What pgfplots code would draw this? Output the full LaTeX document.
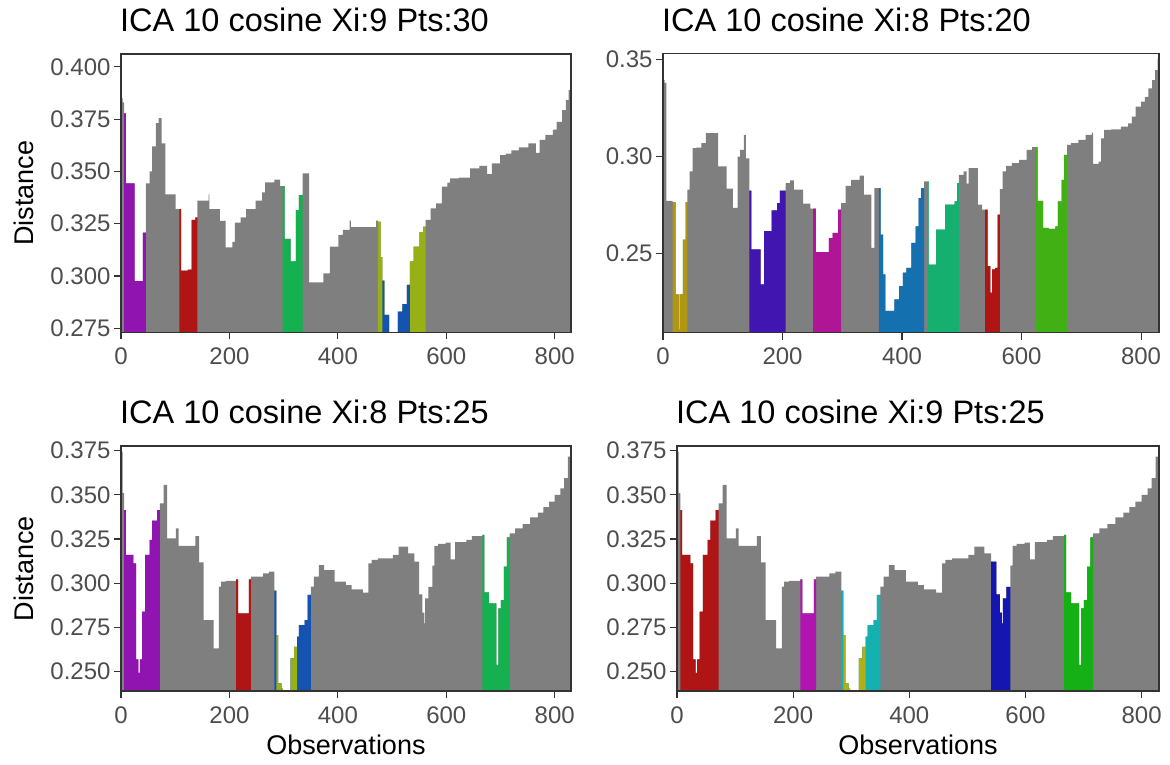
\documentclass[border=0pt]{standalone}
\usepackage{fontspec}
\setmainfont{Liberation Sans}
\usepackage{pgfplots}
\usepackage{pgfplotstable}
\pgfplotsset{compat=1.18}
\definecolor{gfill}{HTML}{7F7F7F}
\definecolor{axisc}{HTML}{333333}
\definecolor{tickc}{HTML}{4D4D4D}
\definecolor{cpurple}{HTML}{9015B0}
\definecolor{cred}{HTML}{B01515}
\definecolor{cgreen}{HTML}{15B050}
\definecolor{colive}{HTML}{96B015}
\definecolor{cblue}{HTML}{1553B0}
\definecolor{cgold}{HTML}{B09615}
\definecolor{cindigo}{HTML}{4015B0}
\definecolor{cmagenta}{HTML}{B01596}
\definecolor{cblueb}{HTML}{1570B0}
\definecolor{cteal}{HTML}{15B070}
\definecolor{cgreenb}{HTML}{40B015}
\definecolor{cmag}{HTML}{B015B0}
\definecolor{ccyan}{HTML}{15B0B0}
\definecolor{cyellow}{HTML}{B0B015}
\definecolor{cnavy}{HTML}{1515B0}
\definecolor{cgreenc}{HTML}{15B015}

\pgfplotstableread{
x y
0 0.3744
2.8 0.3509
5.6 0.3414
9.0 0.3160
22.9 0.3113
27.8 0.2570
31.9 0.2494
34.7 0.2570
38.9 0.2839
44.4 0.3160
52.7 0.3245
57.6 0.3354
66.6 0.3414
71.5 0.3452
78.4 0.3556
85.3 0.3254
101.3 0.3311
106.2 0.3211
137.4 0.3267
144.3 0.3118
152.6 0.2792
170.7 0.2632
180.4 0.2981
184.6 0.3009
192.9 0.3013
212.3 0.3022
215.8 0.2830
235.9 0.3022
239.4 0.3037
262.3 0.3056
272.7 0.3066
283.1 0.2958
286.5 0.2707
290.0 0.2434
295.6 0.2405
298.0 0.2300
313.0 0.2575
319.1 0.2641
324.7 0.2698
328.2 0.2764
338.6 0.2792
344.1 0.2934
350.4 0.2981
355.9 0.3037
364.9 0.3103
374.7 0.3075
394.1 0.3009
414.9 0.2990
425.3 0.2966
446.1 0.2947
456.5 0.3113
462.1 0.3132
473.9 0.3141
501.6 0.3160
512.0 0.3207
529.4 0.3169
540.9 0.3122
550.0 0.2937
556.0 0.2834
559.5 0.2773
561.0 0.2915
567.0 0.2980
574.2 0.3100
578.0 0.3211
584.9 0.3222
598.8 0.3230
607.8 0.3135
616.1 0.3232
637.0 0.3245
647.3 0.3267
666.7 0.3273
670.2 0.2949
678.5 0.2886
692.4 0.2538
695.9 0.2858
700.7 0.2905
706.3 0.3094
711.8 0.3260
716.7 0.3282
727.1 0.3311
740.9 0.3335
754.8 0.3373
768.7 0.3399
779.1 0.3430
789.5 0.3462
799.9 0.3499
810.3 0.3537
817.3 0.3594
824.2 0.3716
830 0.3716
}\profC

\pgfplotsset{
  reach/.style={
    scale only axis, xmin=0, xmax=830,
    axis on top,
    axis line style={draw=axisc, line width=1.1pt},
    every tick/.style={draw=axisc, line width=1.1pt},
    tick align=outside, major tick length=7pt,
    xtick pos=bottom, ytick pos=left,
    xtick={0,200,400,600,800},
    ticklabel style={font=\fontsize{24}{24}\selectfont, text=tickc},
    xticklabel style={yshift=-5pt},
    /pgf/number format/assume math mode=true,
    scaled y ticks=false,
    yticklabel style={/pgf/number format/.cd, fixed, fixed zerofill, precision=3},
  },
  gbar/.style={const plot, fill=gfill, draw=none},
  cbar/.style={const plot, fill=#1, draw=none},
}

\begin{document}
\begin{tikzpicture}
\path[use as bounding box] (0pt,0pt) rectangle (1170pt,765pt);

% ---------------- Panel 1 ----------------
\begin{axis}[reach, at={(121pt,432.5pt)}, anchor=south west, width=450pt, height=278.5pt,
  ymin=0.2730, ymax=0.4061, ytick={0.275,0.3,0.325,0.35,0.375,0.4}]
\addplot[gbar] coordinates {(0,0.385) (3,0.383) (5.6,0.3777) (9,0.3443) (25,0.2975) (40.2,0.3207) (45.8,0.3443) (52.7,0.350) (57.6,0.362) (64.5,0.373) (69.4,0.3755) (74.9,0.3634) (81.9,0.339) (100.6,0.332) (111,0.3026) (123.5,0.3031) (130.4,0.3268) (137.4,0.328) (140.8,0.336) (161.7,0.339) (163,0.332) (182.5,0.3263) (192.9,0.3137) (205.4,0.3163) (210.2,0.3255) (220.6,0.328) (231,0.332) (248.4,0.336) (260.2,0.340) (265.7,0.3448) (283.1,0.346) (293.5,0.343) (301.8,0.3177) (312.9,0.307) (322.6,0.3315) (328.2,0.3387) (335.1,0.349) (346.9,0.297) (373.3,0.3013) (385.1,0.314) (401,0.3196) (409.3,0.322) (421.8,0.3265) (423.9,0.3233) (470.4,0.3265) (473.9,0.326) (478.7,0.309) (482.2,0.2978) (485.7,0.2814) (494.7,0.26) (510.6,0.283) (519,0.2865) (527.3,0.2957) (532.8,0.307) (539.8,0.314) (550.2,0.321) (557.1,0.3236) (562,0.3268) (571,0.3323) (581.4,0.3347) (591.8,0.3427) (602.2,0.3446) (607.1,0.3467) (623,0.347) (643.8,0.3514) (661.2,0.3526) (675.1,0.3487) (684.1,0.3538) (699.3,0.3578) (709.8,0.3585) (720.2,0.360) (734,0.3615) (751.4,0.3634) (765.3,0.3589) (772.2,0.365) (782.6,0.3674) (796.5,0.370) (803.4,0.3737) (813.8,0.3793) (820.7,0.3841) (825.6,0.389) (830,0.389)} \closedcycle;
\addplot[cbar=cpurple] coordinates {(5.6,0.3777) (9,0.3443) (25,0.2975) (40.2,0.3207) (45.8,0.3207)} \closedcycle;
\addplot[cbar=cred] coordinates {(107.5,0.332) (111,0.3026) (123.5,0.3031) (130.4,0.3268) (137.4,0.328) (140.8,0.328)} \closedcycle;
\addplot[cbar=cgreen] coordinates {(298.3,0.343) (301.8,0.3177) (312.9,0.307) (322.6,0.3315) (328.2,0.3387) (335.1,0.3387)} \closedcycle;
\addplot[cbar=colive] coordinates {(473.9,0.326) (478.7,0.309) (482.2,0.2978) (485.7,0.2814) (494.7,0.26) (510.6,0.283) (519,0.2865) (527.3,0.2957) (532.8,0.307) (539.8,0.314) (550.2,0.321) (557.1,0.3236) (562,0.3236)} \closedcycle;
\addplot[cbar=cblue] coordinates {(482.2,0.2978) (485.7,0.2814) (494.7,0.26) (510.6,0.283) (519,0.2865) (527.3,0.2957) (532.8,0.2957)} \closedcycle;
\end{axis}

% ---------------- Panel 2 ----------------
\begin{axis}[reach, at={(663pt,432.3pt)}, anchor=south west, width=496pt, height=279.2pt,
  ymin=0.2092, ymax=0.3531, ytick={0.25,0.3,0.35},
  yticklabel style={/pgf/number format/.cd, fixed, fixed zerofill, precision=2}]
\addplot[gbar] coordinates {(0,0.3394) (2.5,0.338) (5.6,0.2772) (16.1,0.2765) (21.0,0.2289) (26.6,0.2110) (27.8,0.2289) (33.4,0.2572) (37.7,0.2765) (40.8,0.2829) (44.5,0.2923) (49.5,0.3043) (55.0,0.3046) (64.3,0.3069) (71.7,0.3120) (92.1,0.2949) (106.3,0.2834) (116.8,0.2735) (124.9,0.3000) (129.2,0.3034) (135.4,0.3111) (138.5,0.2991) (144.7,0.2824) (147.8,0.2521) (163.2,0.2341) (169.4,0.2615) (181.8,0.2723) (191.0,0.276) (195.4,0.2824) (205.3,0.2863) (212.7,0.2877) (218.9,0.2829) (234.3,0.2757) (246.7,0.2731) (256.0,0.2507) (277.6,0.2580) (283.8,0.2606) (293.0,0.2726) (298.0,0.2760) (305.4,0.2849) (314.7,0.2880) (328.9,0.2901) (336.3,0.2803) (348.7,0.2529) (353.6,0.2837) (364.1,0.2598) (368.5,0.2392) (372.2,0.2204) (387.0,0.2264) (395.1,0.2332) (401.2,0.2401) (407.4,0.2426) (415.5,0.2555) (422.9,0.2640) (427.8,0.2786) (432.1,0.2837) (437.1,0.2872) (444.5,0.2443) (456.9,0.2623) (472.3,0.2752) (487.8,0.2769) (492.1,0.2863) (495.2,0.2906) (503.2,0.2923) (508.2,0.2860) (511.3,0.2940) (526.7,0.2752) (534.2,0.2726) (543.4,0.2435) (547.8,0.2298) (550.9,0.2418) (555.8,0.2426) (560.1,0.2700) (563.8,0.2832) (568.2,0.2923) (574.3,0.2952) (583.6,0.2966) (596.0,0.2983) (608.3,0.3034) (617.6,0.3048) (626.9,0.2772) (636.2,0.2632) (645.4,0.2627) (656.6,0.2640) (660.9,0.2769) (667.1,0.2880) (671.4,0.3009) (676.4,0.3060) (682.5,0.3069) (694.9,0.3086) (707.3,0.3111) (717.8,0.3123) (719.6,0.2962) (728.9,0.2974) (733.2,0.3094) (738.2,0.3137) (750.5,0.3140) (766.0,0.3154) (778.4,0.3171) (784.5,0.3206) (790.7,0.3257) (800.0,0.3283) (806.2,0.3308) (812.4,0.3351) (818.5,0.3394) (823.5,0.3445) (827.8,0.3505) (830,0.3505)} \closedcycle;
\addplot[cbar=cgold] coordinates {(16.1,0.2765) (21.0,0.2289) (26.6,0.2110) (27.8,0.2289) (33.4,0.2572) (37.7,0.2765) (40.8,0.2765)} \closedcycle;
\addplot[cbar=cindigo] coordinates {(144.7,0.2824) (147.8,0.2521) (163.2,0.2341) (169.4,0.2615) (181.8,0.2723) (191.0,0.276) (195.4,0.2824) (205.3,0.2824)} \closedcycle;
\addplot[cbar=cmagenta] coordinates {(251.0,0.2731) (256.0,0.2507) (277.6,0.2580) (283.8,0.2606) (293.0,0.2726) (298.0,0.2726)} \closedcycle;
\addplot[cbar=cblueb] coordinates {(361.1,0.2837) (364.1,0.2598) (368.5,0.2392) (372.2,0.2204) (387.0,0.2264) (395.1,0.2332) (401.2,0.2401) (407.4,0.2426) (415.5,0.2555) (422.9,0.2640) (427.8,0.2786) (432.1,0.2837) (437.1,0.2837)} \closedcycle;
\addplot[cbar=cteal] coordinates {(442.7,0.2872) (444.5,0.2443) (456.9,0.2623) (472.3,0.2752) (487.8,0.2769) (492.1,0.2863) (495.2,0.2863)} \closedcycle;
\addplot[cbar=cred] coordinates {(539.1,0.2726) (543.4,0.2435) (547.8,0.2298) (550.9,0.2418) (555.8,0.2426) (560.1,0.2700) (563.8,0.2700)} \closedcycle;
\addplot[cbar=cgreenb] coordinates {(623.8,0.3048) (626.9,0.2772) (636.2,0.2632) (645.4,0.2627) (656.6,0.2640) (660.9,0.2769) (667.1,0.2880) (671.4,0.3009) (676.4,0.3009)} \closedcycle;
\end{axis}

% ---------------- Panel 3 ----------------
\begin{axis}[reach, at={(121pt,74pt)}, anchor=south west, width=450pt, height=245pt,
  ymin=0.2391, ymax=0.3776, ytick={0.25,0.275,0.3,0.325,0.35,0.375}]
\addplot[gbar] table[x=x,y=y] {\profC} \closedcycle;
\addplot[cbar=cpurple] coordinates {(5.6,0.3414) (9.0,0.3160) (22.9,0.3113) (27.8,0.2570) (31.9,0.2494) (34.7,0.2570) (38.9,0.2839) (44.4,0.3160) (52.7,0.3245) (57.6,0.3354) (66.6,0.3414) (71.5,0.3414)} \closedcycle;
\addplot[cbar=cred] coordinates {(212.3,0.3022) (215.8,0.2830) (235.9,0.3022) (239.4,0.3022)} \closedcycle;
\addplot[cbar=cblue] coordinates {(283.1,0.2958) (286.5,0.2707) (290.0,0.2434) (295.6,0.2405) (298.0,0.2300) (313.0,0.2575) (319.1,0.2641) (324.7,0.2698) (328.2,0.2764) (338.6,0.2792) (344.1,0.2934) (350.4,0.2934)} \closedcycle;
\addplot[cbar=colive] coordinates {(286.5,0.2707) (290.0,0.2434) (295.6,0.2405) (298.0,0.2300) (313.0,0.2575) (319.1,0.2641) (324.7,0.2641)} \closedcycle;
\addplot[cbar=cgreen] coordinates {(666.7,0.3273) (670.2,0.2949) (678.5,0.2886) (692.4,0.2538) (695.9,0.2858) (700.7,0.2905) (706.3,0.3094) (711.8,0.3260) (716.7,0.3260)} \closedcycle;
\end{axis}

% ---------------- Panel 4 ----------------
\begin{axis}[reach, at={(677pt,74pt)}, anchor=south west, width=482pt, height=245pt,
  ymin=0.2391, ymax=0.3776, ytick={0.25,0.275,0.3,0.325,0.35,0.375}]
\addplot[gbar] table[x=x,y=y] {\profC} \closedcycle;
\addplot[cbar=cred] coordinates {(5.6,0.3414) (9.0,0.3160) (22.9,0.3113) (27.8,0.2570) (31.9,0.2494) (34.7,0.2570) (38.9,0.2839) (44.4,0.3160) (52.7,0.3245) (57.6,0.3354) (66.6,0.3414) (71.5,0.3414)} \closedcycle;
\addplot[cbar=cmag] coordinates {(212.3,0.3022) (215.8,0.2830) (235.9,0.3022) (239.4,0.3022)} \closedcycle;
\addplot[cbar=ccyan] coordinates {(283.1,0.2958) (286.5,0.2707) (290.0,0.2434) (295.6,0.2405) (298.0,0.2300) (313.0,0.2575) (319.1,0.2641) (324.7,0.2698) (328.2,0.2764) (338.6,0.2792) (344.1,0.2934) (350.4,0.2934)} \closedcycle;
\addplot[cbar=cyellow] coordinates {(286.5,0.2707) (290.0,0.2434) (295.6,0.2405) (298.0,0.2300) (313.0,0.2575) (319.1,0.2641) (324.7,0.2641)} \closedcycle;
\addplot[cbar=cnavy] coordinates {(540.9,0.3122) (550.0,0.2937) (556.0,0.2834) (559.5,0.2773) (561.0,0.2915) (567.0,0.2980) (574.2,0.2980)} \closedcycle;
\addplot[cbar=cgreenc] coordinates {(666.7,0.3273) (670.2,0.2949) (678.5,0.2886) (692.4,0.2538) (695.9,0.2858) (700.7,0.2905) (706.3,0.3094) (711.8,0.3260) (716.7,0.3260)} \closedcycle;
\end{axis}

% ---------------- Titles and axis titles ----------------
\begin{scope}[every node/.style={inner sep=0pt, font=\fontsize{32.5}{39}\selectfont, anchor=base west}]
\node at (120pt,733.3pt) {ICA 10 cosine Xi:9 Pts:30};
\node at (662pt,733.3pt) {ICA 10 cosine Xi:8 Pts:20};
\node at (120pt,341.7pt) {ICA 10 cosine Xi:8 Pts:25};
\node at (676pt,341.7pt) {ICA 10 cosine Xi:9 Pts:25};
\end{scope}
\begin{scope}[every node/.style={inner sep=0pt, font=\fontsize{27}{32}\selectfont}]
\node[rotate=90, anchor=base] at (33.3pt,571.7pt) {Distance};
\node[rotate=90, anchor=base] at (33.3pt,196.5pt) {Distance};
\node[anchor=base] at (346pt,10pt) {Observations};
\node[anchor=base] at (918pt,10pt) {Observations};
\end{scope}
\end{tikzpicture}
\end{document}
